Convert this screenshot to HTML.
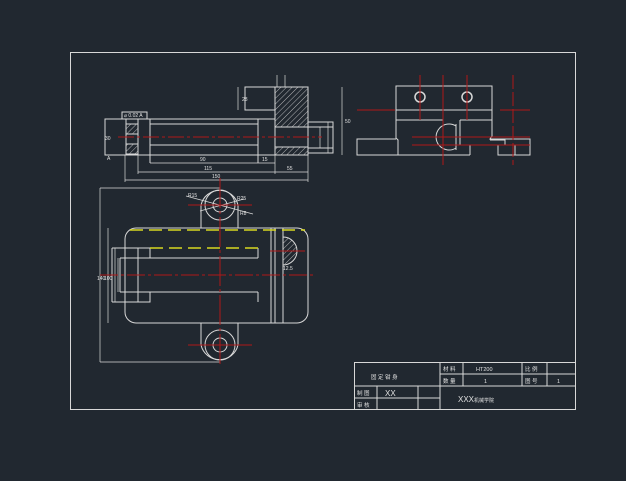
<!DOCTYPE html>
<html><head><meta charset="utf-8"><style>
html,body{margin:0;padding:0;background:#212830;}
svg{display:block}
text{font-family:"Liberation Sans","Noto Sans CJK SC",sans-serif;fill:#e0e0e0}
</style></head><body>
<svg width="626" height="481" viewBox="0 0 626 481" xmlns="http://www.w3.org/2000/svg">
<defs>
<pattern id="h" width="4" height="4" patternUnits="userSpaceOnUse" patternTransform="rotate(45)">
<line x1="0" y1="0" x2="0" y2="4" stroke="#d8d8d8" stroke-width="0.8"/></pattern>
</defs>
<rect width="626" height="481" fill="#212830"/>
<g fill="none" stroke="#d8d8d8" stroke-width="1">
<rect x="70.5" y="52.5" width="505" height="357"/>
<rect x="275" y="87" width="33" height="40" fill="url(#h)"/>
<rect x="275" y="147" width="33" height="8" fill="url(#h)"/>
<rect x="126" y="124" width="12" height="10" fill="url(#h)"/>
<rect x="126" y="144" width="12" height="10" fill="url(#h)"/>
<rect x="275" y="87" width="33" height="68"/>
<rect x="245" y="87" width="30" height="23"/>
<rect x="308" y="122" width="25" height="31"/>
<line x1="308" y1="127" x2="333" y2="127"/>
<line x1="308" y1="148" x2="333" y2="148"/>
<rect x="105" y="119" width="170" height="36"/>
<line x1="126" y1="119" x2="126" y2="155"/>
<line x1="138" y1="119" x2="138" y2="155"/>
<line x1="150" y1="119" x2="150" y2="163"/>
<line x1="150" y1="124" x2="258" y2="124"/>
<line x1="150" y1="145" x2="258" y2="145"/>
<line x1="258" y1="119" x2="258" y2="163"/>
<rect x="122" y="112" width="25" height="7"/>
<line x1="342" y1="87" x2="342" y2="155" stroke-width="0.7"/>
<line x1="238" y1="87" x2="238" y2="110" stroke-width="0.7"/>
<line x1="150" y1="163" x2="258" y2="163" stroke-width="0.7"/>
<line x1="258" y1="163" x2="275" y2="163" stroke-width="0.7"/>
<line x1="138" y1="172" x2="275" y2="172" stroke-width="0.7"/>
<line x1="275" y1="172" x2="308" y2="172" stroke-width="0.7"/>
<line x1="125" y1="180" x2="308" y2="180" stroke-width="0.7"/>
<line x1="125" y1="155" x2="125" y2="182" stroke-width="0.7"/>
<line x1="308" y1="155" x2="308" y2="182" stroke-width="0.7"/>
<line x1="138" y1="155" x2="138" y2="174" stroke-width="0.7"/>
<line x1="275" y1="155" x2="275" y2="174" stroke-width="0.7"/>
<line x1="320" y1="127" x2="320" y2="148" stroke-width="0.7"/>
<line x1="328" y1="122" x2="328" y2="153" stroke-width="0.7"/>
<line x1="277" y1="75" x2="277" y2="87" stroke-width="0.7"/>
<line x1="285" y1="75" x2="285" y2="87" stroke-width="0.7"/>
<rect x="396" y="86" width="96" height="24"/>
<circle cx="420" cy="97" r="5" stroke-width="1.5"/>
<circle cx="467" cy="97" r="5" stroke-width="1.5"/>
<path d="M396 110 V138 L398 140 V155 H357 V139 H396"/>
<path d="M396 120 H443 M460 120 H492 V136 L490 139 H530 V155 H498 V145 H505 V140 H490 M398 155 H470 M460 120 V145 H470 V155"/>
<path d="M456 126 A13 13 0 1 0 456 148"/>
<line x1="456" y1="124" x2="456" y2="150"/>
<line x1="492" y1="110" x2="492" y2="120"/>
<line x1="515" y1="145" x2="515" y2="155"/>
<rect x="125" y="228" width="183" height="95" rx="11"/>
<line x1="271" y1="228" x2="271" y2="323"/>
<line x1="275" y1="228" x2="275" y2="323"/>
<line x1="283" y1="228" x2="283" y2="323"/>
<path d="M201 228 V205 A19 19 0 0 1 238 205 V228"/>
<circle cx="220" cy="205" r="15"/><circle cx="220" cy="205" r="7"/>
<path d="M201 323 V345 A19 19 0 0 0 238 345 V323"/>
<circle cx="220" cy="345" r="15"/><circle cx="220" cy="345" r="7"/>
<path d="M112 248 H150 V258 H258 M112 302 H150 V292 H258 M112 248 V302 M120 258 H150 M120 292 H150 M120 258 V292 M138 248 V302 M258 248 V258 M258 292 V302"/>
<path d="M283 237 A14 14 0 0 1 283 265 Z" fill="url(#h)"/>
<line x1="100" y1="188" x2="100" y2="362" stroke-width="0.7"/>
<line x1="100" y1="188" x2="220" y2="188" stroke-width="0.7"/>
<line x1="100" y1="362" x2="220" y2="362" stroke-width="0.7"/>
<line x1="108" y1="228" x2="108" y2="323" stroke-width="0.7"/>
<line x1="115" y1="248" x2="115" y2="302" stroke-width="0.7"/>
<line x1="118" y1="258" x2="118" y2="292" stroke-width="0.7"/>
<line x1="186" y1="196" x2="253" y2="214" stroke-width="0.7"/>
<line x1="200" y1="211" x2="244" y2="199" stroke-width="0.7"/>
<rect x="354.5" y="362.5" width="221" height="47"/>
<line x1="440" y1="374" x2="575" y2="374"/>
<line x1="354" y1="386" x2="575" y2="386"/>
<line x1="354" y1="398" x2="440" y2="398"/>
<line x1="377" y1="386" x2="377" y2="410"/>
<line x1="418" y1="386" x2="418" y2="410"/>
<line x1="440" y1="362" x2="440" y2="410"/>
<line x1="463" y1="362" x2="463" y2="386"/>
<line x1="522" y1="362" x2="522" y2="386"/>
<line x1="547" y1="362" x2="547" y2="386"/>
</g>
<g stroke="#b01818" stroke-width="1" fill="none">
<line x1="118" y1="137" x2="322" y2="137" stroke-dasharray="16,3,3,3"/>
<line x1="420" y1="75" x2="420" y2="120"/><line x1="467" y1="75" x2="467" y2="120"/>
<line x1="443" y1="75" x2="443" y2="165"/><line x1="513" y1="75" x2="513" y2="165" stroke-dasharray="14,3"/>
<line x1="357" y1="110" x2="395" y2="110"/><line x1="500" y1="110" x2="530" y2="110"/>
<line x1="412" y1="137" x2="530" y2="137"/><line x1="412" y1="145" x2="530" y2="145"/>
<line x1="100" y1="275" x2="316" y2="275" stroke-dasharray="18,3,3,3"/>
<line x1="220" y1="178" x2="220" y2="366" stroke-dasharray="30,3,3,3"/>
<line x1="188" y1="205" x2="252" y2="205"/><line x1="188" y1="345" x2="252" y2="345"/>
<line x1="270" y1="251" x2="305" y2="251"/>
</g>
<g stroke="#d8d820" stroke-width="1.5" stroke-dasharray="13,6">
<line x1="130" y1="230" x2="305" y2="230"/>
<line x1="150" y1="248" x2="258" y2="248"/>
</g>
<g font-size="5">
<text x="200" y="161">90</text><text x="262" y="161">15</text>
<text x="204" y="170">115</text><text x="287" y="170">55</text>
<text x="212" y="178">150</text><text x="345" y="123">50</text>
<text x="242" y="101">28</text><text x="105" y="140">30</text>
<text x="124" y="117">⌀ 0.02 A</text><text x="107" y="160">A</text>
<text x="188" y="197">R15</text><text x="237" y="200">R25</text><text x="240" y="215">R8</text>
<text x="97" y="280">140</text><text x="104" y="280">100</text>
<text x="283" y="270">12.5</text>
</g>
<g font-size="5.5">
<text x="371" y="379">固 定 钳 身</text>
<text x="443" y="371">材 料</text><text x="476" y="371">HT200</text>
<text x="525" y="371">比 例</text>
<text x="443" y="383">数 量</text><text x="484" y="383">1</text>
<text x="525" y="383">图 号</text><text x="557" y="383">1</text>
<text x="357" y="395">制 图</text><text x="357" y="407">审 核</text>
</g>
<text x="385" y="396" font-size="8">XX</text>
<text x="458" y="402" font-size="8">XXX<tspan font-size="5">机械学院</tspan></text>
</svg>
</body></html>
